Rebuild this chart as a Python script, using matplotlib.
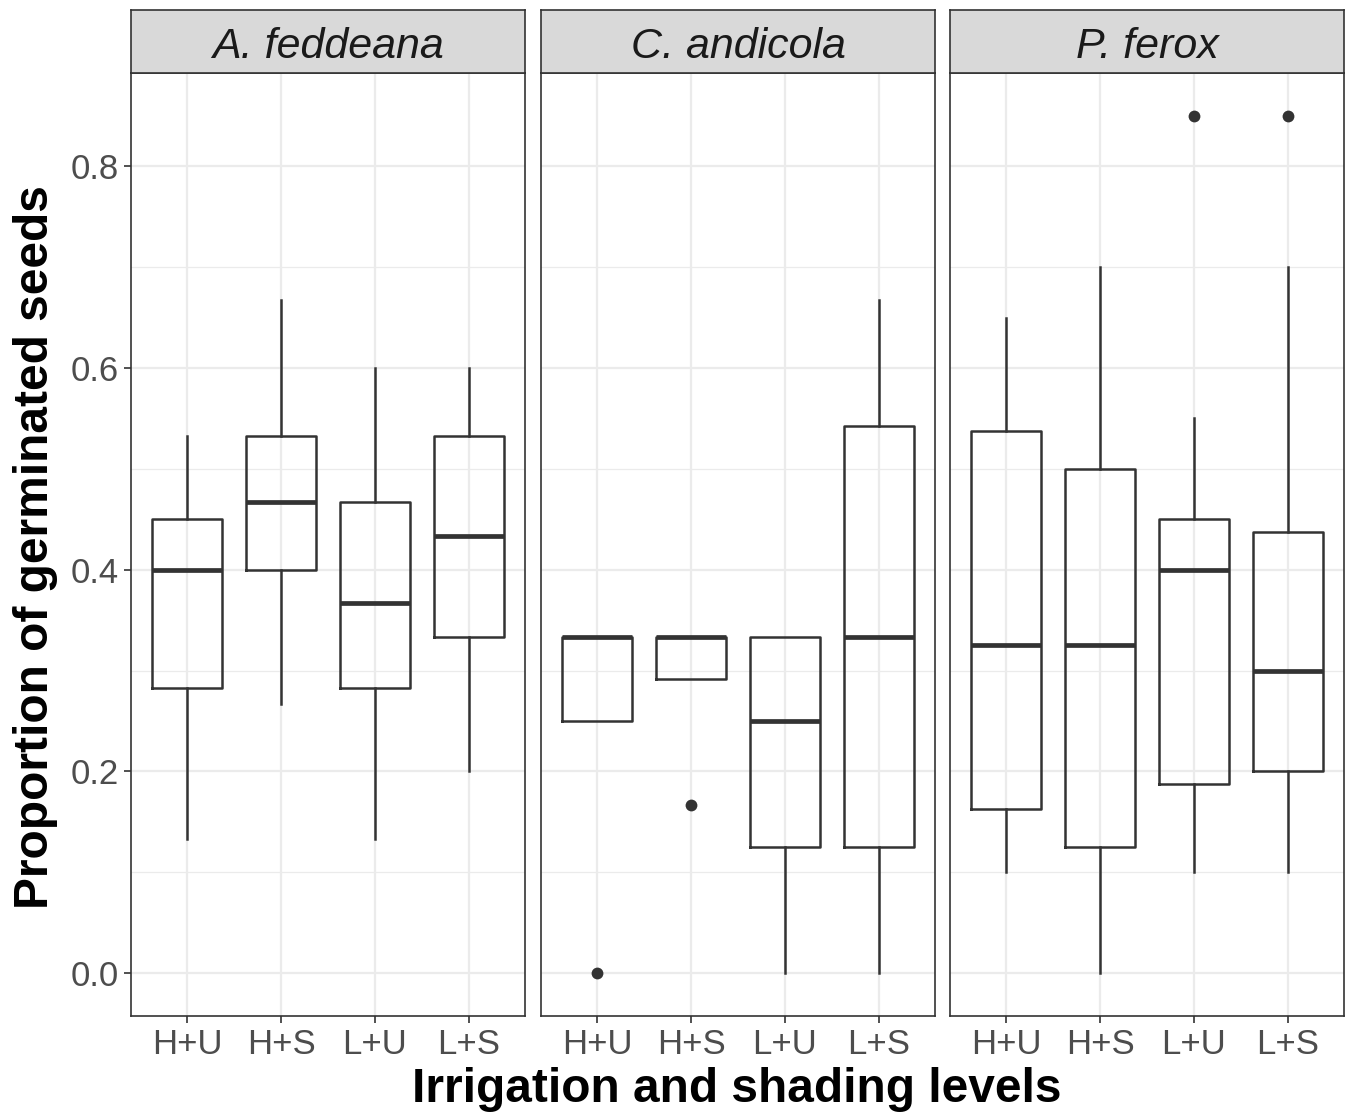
import matplotlib.pyplot as plt

plt.rcParams['font.family'] = ['Liberation Sans', 'DejaVu Sans']

# 数据：三个物种，四种处理
species = ['A. feddeana', 'C. andicola', 'P. ferox']
levels = ['H+U', 'H+S', 'L+U', 'L+S']
yticks = [0.0, 0.2, 0.4, 0.6, 0.8]
yminor = [0.1, 0.3, 0.5, 0.7]

# A. feddeana
A_whislo = [0.133, 0.267, 0.133, 0.200]
A_q1 = [0.283, 0.400, 0.283, 0.333]
A_med = [0.400, 0.467, 0.367, 0.433]
A_q3 = [0.450, 0.533, 0.467, 0.533]
A_whishi = [0.533, 0.667, 0.600, 0.600]
A_fliers = [[], [], [], []]

# C. andicola
C_whislo = [0.250, 0.292, 0.000, 0.000]
C_q1 = [0.250, 0.292, 0.125, 0.125]
C_med = [0.333, 0.333, 0.250, 0.333]
C_q3 = [0.333, 0.333, 0.333, 0.542]
C_whishi = [0.333, 0.333, 0.333, 0.667]
C_fliers = [[0.0], [0.167], [], []]

# P. ferox
P_whislo = [0.100, 0.000, 0.100, 0.100]
P_q1 = [0.1625, 0.125, 0.1875, 0.200]
P_med = [0.325, 0.325, 0.400, 0.300]
P_q3 = [0.5375, 0.500, 0.450, 0.4375]
P_whishi = [0.650, 0.700, 0.550, 0.700]
P_fliers = [[], [], [0.85], [0.85]]

groups = [
    (A_whislo, A_q1, A_med, A_q3, A_whishi, A_fliers),
    (C_whislo, C_q1, C_med, C_q3, C_whishi, C_fliers),
    (P_whislo, P_q1, P_med, P_q3, P_whishi, P_fliers),
]

W, H = 1347, 1112
fig = plt.figure(figsize=(W / 100, H / 100), dpi=100)

dark = '#333333'
grid = '#EBEBEB'
panel_left = [131, 541, 950]
panel_w = 394
panel_top, panel_bot, strip_top = 73, 1016, 10

for i, (name, g) in enumerate(zip(species, groups)):
    x0 = panel_left[i]
    ax = fig.add_axes([x0 / W, 1 - panel_bot / H, panel_w / W, (panel_bot - panel_top) / H])
    stats = []
    for j in range(len(levels)):
        stats.append(dict(whislo=g[0][j], q1=g[1][j], med=g[2][j], q3=g[3][j],
                          whishi=g[4][j], fliers=g[5][j], label=levels[j]))
    ax.bxp(stats, positions=range(1, 5), widths=0.75, showcaps=False,
           boxprops=dict(color=dark, lw=1.8),
           whiskerprops=dict(color=dark, lw=1.8),
           medianprops=dict(color=dark, lw=3.4, solid_capstyle='butt'),
           flierprops=dict(marker='o', markerfacecolor=dark, markeredgecolor='none', markersize=8.5))
    ax.set_xlim(0.4, 4.6)
    ax.set_ylim(-0.0425, 0.8925)
    ax.set_yticks(yticks)
    ax.set_yticks(yminor, minor=True)
    ax.set_axisbelow(True)
    ax.grid(which='major', color=grid, lw=1.6)
    ax.grid(which='minor', axis='y', color=grid, lw=0.9)
    ax.tick_params(which='minor', length=0)
    ax.tick_params(which='major', length=5, width=1.2, color=dark, labelsize=25,
                   labelcolor='#4D4D4D', pad=4)
    for s in ax.spines.values():
        s.set_color(dark)
        s.set_linewidth(1.2)
    if i == 0:
        ax.set_yticklabels(['0.0', '0.2', '0.4', '0.6', '0.8'])
    else:
        ax.tick_params(axis='y', left=False, labelleft=False)

    # 分面标题条
    sax = fig.add_axes([x0 / W, 1 - panel_top / H, panel_w / W, (panel_top - strip_top) / H])
    sax.set_facecolor('#D9D9D9')
    sax.set_xticks([])
    sax.set_yticks([])
    for s in sax.spines.values():
        s.set_color(dark)
        s.set_linewidth(1.2)
    sax.text(0.5, 0.42, name, ha='center', va='center', fontsize=31, style='italic',
             color='#1A1A1A', transform=sax.transAxes)

fig.text(737 / W, 1 - 1090 / H, 'Irrigation and shading levels', ha='center', va='center',
         fontsize=34.5, fontweight='bold')
fig.text(36 / W, 1 - 547 / H, 'Proportion of germinated seeds', ha='center', va='center',
         rotation=90, fontsize=34.5, fontweight='bold')

fig.savefig('out.png', dpi=100)
